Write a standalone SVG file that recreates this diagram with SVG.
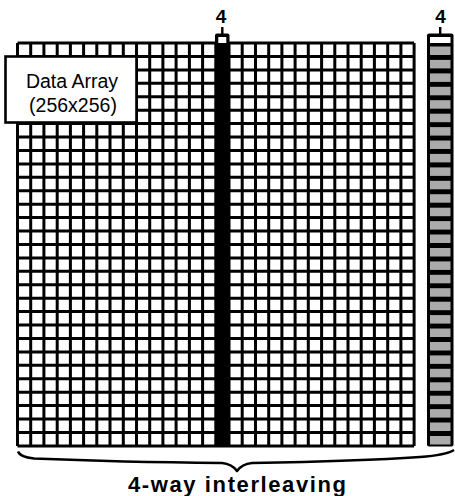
<svg xmlns="http://www.w3.org/2000/svg" width="455" height="496" viewBox="0 0 455 496">
<style>
.grid{fill:none;stroke:#000;stroke-width:3}
.lbl{font-family:"Liberation Sans",Arial,sans-serif;fill:#000}
.gray{fill:#ababab}
</style>
<rect width="455" height="496" fill="#fff"/>
<g id="data-array-grid">
<rect x="17.5" y="43" width="396.6" height="402.9" fill="#fff"/>
<path class="grid" d="M17.5 43V445.9M30.7 43V445.9M43.9 43V445.9M57.2 43V445.9M70.4 43V445.9M83.6 43V445.9M96.8 43V445.9M110 43V445.9M123.3 43V445.9M136.5 43V445.9M149.7 43V445.9M162.9 43V445.9M176.1 43V445.9M189.4 43V445.9M202.6 43V445.9M215.8 43V445.9M229 43V445.9M242.2 43V445.9M255.5 43V445.9M268.7 43V445.9M281.9 43V445.9M295.1 43V445.9M308.3 43V445.9M321.6 43V445.9M334.8 43V445.9M348 43V445.9M361.2 43V445.9M374.4 43V445.9M387.7 43V445.9M400.9 43V445.9M414.1 43V445.9
M17.5 43H414.1M17.5 56.4H414.1M17.5 69.9H414.1M17.5 83.3H414.1M17.5 96.7H414.1M17.5 110.2H414.1M17.5 123.6H414.1M17.5 137H414.1M17.5 150.4H414.1M17.5 163.9H414.1M17.5 177.3H414.1M17.5 190.7H414.1M17.5 204.2H414.1M17.5 217.6H414.1M17.5 231H414.1M17.5 244.5H414.1M17.5 257.9H414.1M17.5 271.3H414.1M17.5 284.7H414.1M17.5 298.2H414.1M17.5 311.6H414.1M17.5 325H414.1M17.5 338.5H414.1M17.5 351.9H414.1M17.5 365.3H414.1M17.5 378.8H414.1M17.5 392.2H414.1M17.5 405.6H414.1M17.5 419H414.1M17.5 432.5H414.1M17.5 445.9H414.1"/>
</g>
<g id="label-box">
<rect x="5.5" y="56.5" width="131" height="66" fill="#fff" stroke="#000" stroke-width="2.6"/>
<text class="lbl" x="72" y="88" font-size="19.5" text-anchor="middle">Data Array</text>
<text class="lbl" x="73" y="112" font-size="19.5" text-anchor="middle">(256x256)</text>
</g>
<g id="black-column">
<rect x="215" y="33.5" width="14.5" height="413" rx="2" fill="#000"/>
<rect x="218.3" y="37" width="8" height="6" fill="#fff"/>
<path d="M222.3 27V34" stroke="#000" stroke-width="2.4"/>
<text class="lbl" x="221" y="23" font-size="19" font-weight="bold" text-anchor="middle">4</text>
</g>
<g id="gray-column">
<rect x="427" y="33.5" width="26.5" height="413" rx="2" fill="#000"/>
<rect x="430" y="37" width="20.5" height="6" fill="#fff"/>
<path d="M440.2 27V34" stroke="#000" stroke-width="2.4"/>
<text class="lbl" x="440.5" y="23" font-size="19" font-weight="bold" text-anchor="middle">4</text>
<g class="gray">
<rect x="430" y="46.5" width="20.5" height="8.5"/>
<rect x="430" y="59.9" width="20.5" height="8.5"/>
<rect x="430" y="73.4" width="20.5" height="8.5"/>
<rect x="430" y="86.8" width="20.5" height="8.5"/>
<rect x="430" y="100.2" width="20.5" height="8.5"/>
<rect x="430" y="113.7" width="20.5" height="8.5"/>
<rect x="430" y="127.1" width="20.5" height="8.5"/>
<rect x="430" y="140.5" width="20.5" height="8.5"/>
<rect x="430" y="153.9" width="20.5" height="8.5"/>
<rect x="430" y="167.4" width="20.5" height="8.5"/>
<rect x="430" y="180.8" width="20.5" height="8.5"/>
<rect x="430" y="194.2" width="20.5" height="8.5"/>
<rect x="430" y="207.7" width="20.5" height="8.5"/>
<rect x="430" y="221.1" width="20.5" height="8.5"/>
<rect x="430" y="234.5" width="20.5" height="8.5"/>
<rect x="430" y="248" width="20.5" height="8.5"/>
<rect x="430" y="261.4" width="20.5" height="8.5"/>
<rect x="430" y="274.8" width="20.5" height="8.5"/>
<rect x="430" y="288.2" width="20.5" height="8.5"/>
<rect x="430" y="301.7" width="20.5" height="8.5"/>
<rect x="430" y="315.1" width="20.5" height="8.5"/>
<rect x="430" y="328.5" width="20.5" height="8.5"/>
<rect x="430" y="342" width="20.5" height="8.5"/>
<rect x="430" y="355.4" width="20.5" height="8.5"/>
<rect x="430" y="368.8" width="20.5" height="8.5"/>
<rect x="430" y="382.3" width="20.5" height="8.5"/>
<rect x="430" y="395.7" width="20.5" height="8.5"/>
<rect x="430" y="409.1" width="20.5" height="8.5"/>
<rect x="430" y="422.5" width="20.5" height="8.5"/>
<rect x="430" y="436" width="20.5" height="8.5"/>
</g>
</g>
<g id="connectors">
<path d="M18 451.5Q20 457 34 458.5Q120 462 222 463Q232 464 237 471Q242 464 252 463Q360 461 420 457Q446 455 454 450" fill="none" stroke="#000" stroke-width="2.6" stroke-linejoin="round"/>
</g>
<g id="caption">
<text class="lbl" x="237" y="492" font-size="22" font-weight="bold" text-anchor="middle" textLength="218" lengthAdjust="spacing">4-way interleaving</text>
</g>
</svg>
